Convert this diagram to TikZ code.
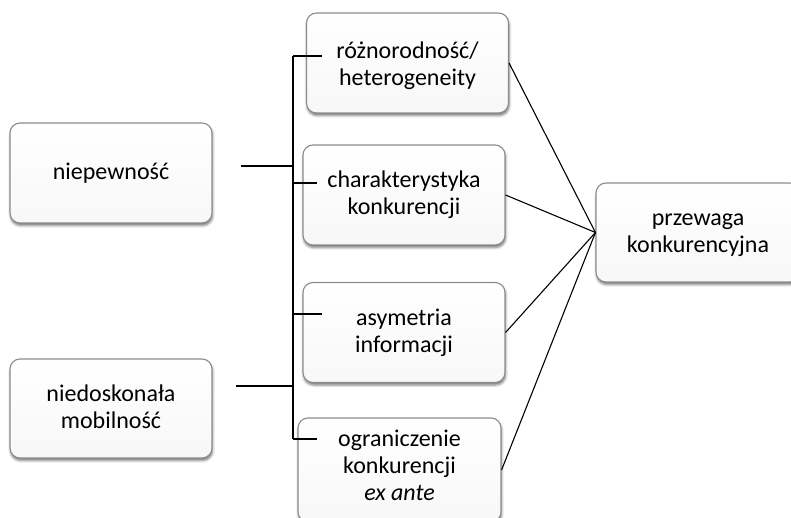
\documentclass[tikz,border=0pt]{standalone}
\usepackage{fontspec}
\setmainfont{Carlito}
\usetikzlibrary{shadows.blur}
% stacked, centred lines of a card, moved down by #1 without changing the box size
\newcommand\cardlines[2]{\raisebox{-#1}[\height][\depth]{\begin{tabular}{@{}c@{}}#2\end{tabular}}}
\begin{document}
\begin{tikzpicture}[x=1pt,y=-1pt,
  card/.style={draw=black!45, line width=1.1pt, rounded corners=10pt,
    top color=white, bottom color=black!3,
    minimum width=202pt, minimum height=100pt, align=center, inner sep=0pt,
    font=\fontsize{24}{27}\selectfont,
    blur shadow={shadow xshift=0.6pt, shadow yshift=-2.5pt,
      shadow blur radius=2.5pt, shadow opacity=55}},
  link/.style={black, line width=1.1pt}]
\useasboundingbox (0,0) rectangle (791,518);

% factor boxes
\node[card] (het)  at (407.5,63)
  {\cardlines{4pt}{różnorodność/\\heterogeneity}};
\node[card] (char) at (404,195)   {\cardlines{1pt}{charakterystyka\\konkurencji}};
\node[card] (asym) at (404,332.5) {\cardlines{1pt}{asymetria\\informacji}};
\node[card, minimum width=203pt, minimum height=104pt] (ogr) at (399.5,470)
  {\cardlines{-2pt}{ograniczenie\\konkurencji\\\textit{ex ante}}};

% outcome box
\node[card, minimum width=204pt, minimum height=99pt] (prz) at (698,232.5)
  {\cardlines{1pt}{przewaga\\konkurencyjna}};

% source boxes
\node[card] (niep) at (111,173)   {niepewność};
\node[card, minimum height=99pt] (nied) at (111,408.5)
  {\cardlines{1pt}{niedoskonała\\mobilność}};

% bracket joining the factors
\coordinate (bTop) at (293,56);
\coordinate (bBot) at (293,439);
\coordinate (bChar) at (293,183);
\coordinate (bAsym) at (293,314);
\coordinate (bNiep) at (293,166);
\coordinate (bNied) at (293,386);
\coordinate (tHet)  at (322,56);
\coordinate (tChar) at (317,183);
\coordinate (tAsym) at (322,314);
\coordinate (tOgr)  at (317,439);
\coordinate (sNiep) at (241,166);
\coordinate (sNied) at (236,386);

\draw[link] (bTop) -- (bBot);
\draw[link] (bTop) -- (tHet);
\draw[link] (bChar) -- (tChar);
\draw[link] (bAsym) -- (tAsym);
\draw[link] (bBot) -- (tOgr);
\draw[link] (sNiep) -- (bNiep);
\draw[link] (sNied) -- (bNied);

% factors feeding the outcome
\draw[link] (het.east)  -- (prz.west);
\draw[link] (char.east) -- (prz.west);
\draw[link] (asym.east) -- (prz.west);
\draw[link] (ogr.east)  -- (prz.west);
\end{tikzpicture}
\end{document}
